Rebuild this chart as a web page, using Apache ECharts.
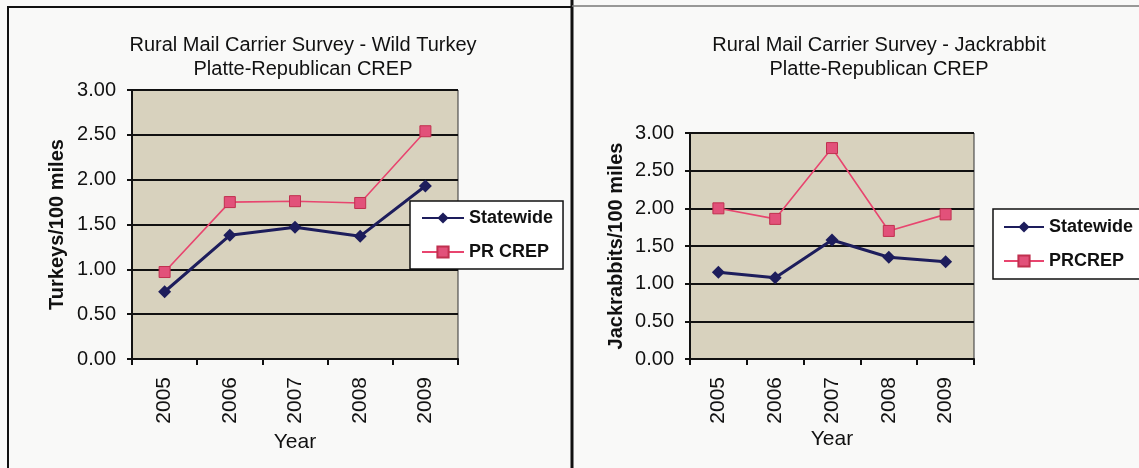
<!DOCTYPE html>
<html>
<head>
<meta charset="utf-8">
<script src="https://cdn.jsdelivr.net/npm/echarts@6/dist/echarts.min.js"></script>
<style>
html,body{margin:0;padding:0;background:#f9f9f8;}
#c{width:1139px;height:468px;}
</style>
</head>
<body>
<div id="c"></div>
<script>
const years = ['2005', '2006', '2007', '2008', '2009'];
const yTicks = [0, 0.5, 1.0, 1.5, 2.0, 2.5, 3.0];
const turkeyStatewide = [0.75, 1.38, 1.47, 1.37, 1.93];
const turkeyPRCREP = [0.97, 1.75, 1.76, 1.74, 2.54];
const jackStatewide = [1.15, 1.08, 1.58, 1.35, 1.29];
const jackPRCREP = [2.00, 1.86, 2.80, 1.70, 1.92];
const titleLeft = 'Rural Mail Carrier Survey - Wild Turkey\nPlatte-Republican CREP';
const titleRight = 'Rural Mail Carrier Survey - Jackrabbit\nPlatte-Republican CREP';

const FONT = '"Liberation Sans", Arial, sans-serif';
const NAVY = '#1d1d5c';
const PINK = '#e8456f';
const TXT = '#111111';

function xAxis(gridIndex) {
  return {
    type: 'category', gridIndex: gridIndex, data: years, boundaryGap: true,
    name: 'Year', nameLocation: 'middle', nameGap: 70,
    nameTextStyle: {fontFamily: FONT, fontSize: 21, color: TXT},
    axisLine: {lineStyle: {color: '#111', width: 2}},
    axisTick: {show: true, length: 6, lineStyle: {color: '#111', width: 2}},
    axisLabel: {rotate: 90, margin: 18, fontFamily: FONT, fontSize: 21, color: TXT},
    splitLine: {show: false}
  };
}
function yAxis(gridIndex, name, gap) {
  return {
    type: 'value', gridIndex: gridIndex,
    min: yTicks[0], max: yTicks[yTicks.length - 1], interval: 0.5,
    name: name, nameLocation: 'middle', nameGap: gap, nameRotate: 90,
    nameTextStyle: {fontFamily: FONT, fontSize: 20, fontWeight: 'bold', color: TXT},
    axisLine: {show: true, lineStyle: {color: '#111', width: 2}},
    axisTick: {show: true, length: 5, lineStyle: {color: '#111', width: 2}},
    axisLabel: {margin: 16, fontFamily: FONT, fontSize: 20, color: TXT,
      formatter: v => v.toFixed(2)},
    splitLine: {show: true, lineStyle: {color: '#111', width: 2}}
  };
}
function series(name, data, idx, kind) {
  const isNavy = kind === 'navy';
  return {
    type: 'line', name: name, data: data, xAxisIndex: idx, yAxisIndex: idx,
    symbol: isNavy ? 'diamond' : 'rect',
    symbolSize: isNavy ? 13 : 11,
    lineStyle: {color: isNavy ? NAVY : PINK, width: isNavy ? 3 : 1.6},
    itemStyle: isNavy ? {color: NAVY} : {color: '#e2517a', borderColor: '#c0304f', borderWidth: 1},
    z: isNavy ? 3 : 2,
    animation: false
  };
}
function legend(names, left, top, pad, itemWidth) {
  return {
    data: names, orient: 'vertical', left: left, top: top,
    padding: pad, itemGap: 14, itemWidth: itemWidth, itemHeight: 14,
    backgroundColor: '#ffffff', borderColor: '#111', borderWidth: 1.5,
    textStyle: {fontFamily: FONT, fontSize: 18, fontWeight: 'bold', color: TXT, lineHeight: 20}
  };
}

const chart = echarts.init(document.getElementById('c'));
chart.setOption({
  backgroundColor: '#f9f9f8',
  animation: false,
  title: [
    {text: titleLeft, left: 298, top: 28, textAlign: 'center',
     textStyle: {fontFamily: FONT, fontSize: 20, fontWeight: 'normal', color: TXT, lineHeight: 24}},
    {text: titleRight, left: 874, top: 28, textAlign: 'center',
     textStyle: {fontFamily: FONT, fontSize: 20, fontWeight: 'normal', color: TXT, lineHeight: 24}}
  ],
  grid: [
    {left: 132, top: 90, width: 326, height: 269, show: true,
     backgroundColor: '#d8d2be', borderColor: '#333', borderWidth: 1},
    {left: 690, top: 133, width: 284, height: 226, show: true,
     backgroundColor: '#d8d2be', borderColor: '#333', borderWidth: 1}
  ],
  xAxis: [xAxis(0), xAxis(1)],
  yAxis: [yAxis(0, 'Turkeys/100 miles', 65), yAxis(1, 'Jackrabbits/100 miles', 64)],
  legend: [
    legend(['Statewide', 'PR CREP'], 410, 201, [7, 10, 7, 11], 42),
    legend(['Statewide ', 'PRCREP'], 993, 209, [8, 14, 8, 10], 40)
  ],
  series: [
    series('Statewide', turkeyStatewide, 0, 'navy'),
    series('PR CREP', turkeyPRCREP, 0, 'pink'),
    series('Statewide ', jackStatewide, 1, 'navy'),
    series('PRCREP', jackPRCREP, 1, 'pink')
  ],
  graphic: [
    {type: 'rect', shape: {x: 8, y: 7, width: 564, height: 480},
     style: {fill: 'none', stroke: '#111', lineWidth: 2}, silent: true},
    {type: 'line', shape: {x1: 572, y1: 0, x2: 572, y2: 468},
     style: {stroke: '#111', lineWidth: 3}, silent: true},
    {type: 'line', shape: {x1: 572, y1: 6, x2: 1139, y2: 6},
     style: {stroke: '#777', lineWidth: 1.5}, silent: true}
  ]
});
</script>
</body>
</html>
